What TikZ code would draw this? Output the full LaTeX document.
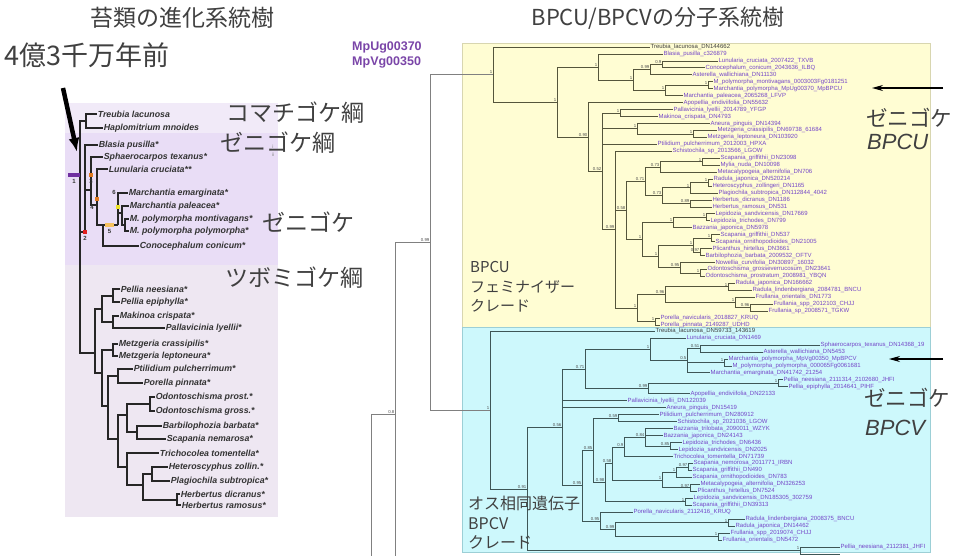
\documentclass[tikz,border=0pt]{standalone}
\usepackage{fontspec}
\setmainfont{Liberation Sans}
\newfontfamily\jpfont{Noto Sans CJK JP}
\usepackage{xcolor}
\usetikzlibrary{arrows.meta}
\definecolor{HaploBg}{HTML}{F1EAF8}
\definecolor{MarchBg}{HTML}{E9DDF6}
\definecolor{JungBg}{HTML}{EEE7F2}
\definecolor{BpcuBg}{HTML}{FFFDD3}
\definecolor{BpcuEdge}{HTML}{D8D6B0}
\definecolor{BpcvBg}{HTML}{CDF8FC}
\definecolor{BpcvEdge}{HTML}{9CCFD6}
\definecolor{TaxonViolet}{HTML}{7446C8}
\definecolor{GenePurple}{HTML}{7A45A8}
\definecolor{UBranch}{HTML}{55553C}
\definecolor{VBranch}{HTML}{3E5656}
\definecolor{OuterGray}{HTML}{808080}
\definecolor{MarkPurple}{HTML}{7030A0}
\definecolor{MarkRed}{HTML}{E02020}
\definecolor{MarkOrange}{HTML}{E07A20}
\definecolor{MarkPale}{HTML}{F7C25E}
\definecolor{MarkYellow}{HTML}{EDE22A}

\begin{document}
\begin{tikzpicture}[
  x=1pt, y=-1pt,
  lbranch/.style={line width=1.3pt, draw=black!85},
  ubranch/.style={line width=0.7pt, draw=UBranch},
  vbranch/.style={line width=0.7pt, draw=VBranch},
  obranch/.style={line width=0.8pt, draw=OuterGray},
  lleaf/.style={anchor=west, inner sep=0.6pt, font=\fontsize{8.8}{9}\selectfont\bfseries\itshape, text=black!80},
  uleaf/.style={anchor=west, inner sep=0.4pt, font=\fontsize{6}{6}\selectfont, text=TaxonViolet},
  bsval/.style={anchor=south east, inner sep=0.5pt, font=\fontsize{4.3}{4.3}\selectfont, text=black!70},
  jplabel/.style={anchor=west, inner sep=0pt, font=\jpfont\fontsize{23}{23}\selectfont, text=black!75},
  markbox/.style={minimum width=4.5pt, minimum height=4.5pt, inner sep=0pt, draw=none},
  markno/.style={inner sep=0pt, font=\fontsize{6}{6}\selectfont\bfseries, text=black!80},
  callout/.style={-{Stealth[length=11pt,width=6pt]}, line width=1.1pt}
]
\useasboundingbox (0,0) rectangle (960,556);
\clip (0,0) rectangle (960,556);
\fill[white] (0,0) rectangle (960,556);

% backgrounds
\fill[HaploBg] (65,103) rectangle (278,133);
\fill[MarchBg] (65,133) rectangle (278,265);
\fill[JungBg] (65,265) rectangle (278,517);
\filldraw[fill=BpcuBg, draw=BpcuEdge, line width=0.5pt] (462,43) rectangle (930,327);
\filldraw[fill=BpcvBg, draw=BpcvEdge, line width=0.5pt] (462,327) rectangle (930,552);

% titles
\node[inner sep=0pt, font=\jpfont\fontsize{23}{23}\selectfont, text=black!75] (ltitle) at (182,18) {苔類の進化系統樹};
\node[inner sep=0pt, font=\jpfont\fontsize{22}{22}\selectfont, text=black!75] (rtitle) at (658,18) {BPCU/BPCVの分子系統樹};
\node[jplabel, font=\jpfont\fontsize{27}{27}\selectfont] (age) at (4,55) {4億3千万年前};
\coordinate (agetail) at (63,88);
\coordinate (agehead) at (77,152);
\draw[-{Latex[length=14pt,width=11pt]}, line width=4.5pt] (agetail) -- (agehead);

% ---- liverwort tree (left)
\foreach \lx/\ly/\lname [count=\i] in {
  97/114/Treubia lacunosa, 103/128/Haplomitrium mnoides,
  98/145/Blasia pusilla*, 103/157/Sphaerocarpos texanus*, 108/169/Lunularia cruciata**,
  128/193/Marchantia emarginata*, 129/206/Marchantia paleacea*,
  129/219/M. polymorpha montivagans*, 129/231/M. polymorpha polymorpha*,
  139/246/Conocephalum conicum*,
  120/289/Pellia neesiana*, 120/302/Pellia epiphylla*, 119/316/Makinoa crispata*,
  165/328/Pallavicinia lyellii*, 118/344/Metzgeria crassipilis*, 118/356/Metzgeria leptoneura*,
  133/369/Ptilidium pulcherrimum*, 143/383/Porella pinnata*,
  155/397/Odontoschisma prost.*, 155/411/Odontoschisma gross.*,
  162/426/Barbilophozia barbata*, 166/439/Scapania nemarosa*,
  159/453/Trichocolea tomentella*, 168/467/Heteroscyphus zollin.*,
  170/481/Plagiochila subtropica*, 180/494/Herbertus dicranus*, 181/505/Herbertus ramosus*}
  \node[lleaf] (t\i) at (\lx,\ly) {\lname};

\foreach \n/\x/\y in {lroot/80/175, lstem/68/175, lH/86/121, lM/85/232, lm1/91/190,
  lm2/97/205, lm3/103/225, lm7/118/225, lm6/122/213, lm5/125/225,
  lJ/95/353, lP/102/309, lPe/113/296, lMP/113/322, lB/102/373, lMz/113/350,
  lC/108/406, lPo/118/376, lJu/118/439, lS1/127/415, lOd/150/404, lBS/137/432,
  lS2/127/467, lS3/143/485, lHP/152/474, lHe/177/500}
  \coordinate (\n) at (\x,\y);

\foreach \p/\c in {lroot/lH, lroot/lM, lroot/lJ, lH/t1, lH/t2, lM/t3, lM/lm1,
  lm1/t4, lm1/lm2, lm2/t5, lm2/lm3, lm3/lm7, lm3/t10, lm7/t6, lm7/lm6,
  lm6/t7, lm6/lm5, lm5/t8, lm5/t9, lJ/lP, lJ/lB, lP/lPe, lP/lMP,
  lPe/t11, lPe/t12, lMP/t13, lMP/t14, lB/lMz, lB/lC, lMz/t15, lMz/t16,
  lC/lPo, lC/lJu, lPo/t17, lPo/t18, lJu/lS1, lJu/lS2, lS1/lOd, lS1/lBS,
  lOd/t19, lOd/t20, lBS/t21, lBS/t22, lS2/t23, lS2/lS3, lS3/lHP, lS3/lHe,
  lHP/t24, lHP/t25, lHe/t26, lHe/t27}
  \draw[lbranch] (\p) |- (\c);

% event markers
\node[markbox, fill=MarkPurple, minimum width=12pt, minimum height=3.5pt] (mk1) at (74,175) {};
\node[markbox, fill=MarkRed] (mk2) at (lM) {};
\node[markbox, fill=MarkOrange] (mk3) at (91,175) {};
\node[markbox, fill=MarkOrange] (mk4) at (97,199) {};
\node[markbox, fill=MarkPale, minimum width=9pt, minimum height=4pt] (mk5) at (109.5,225) {};
\node[markbox, fill=MarkYellow] (mk6) at (118,207) {};
\node[markno, below=2pt] at (mk1.south) {1};
\node[markno, below=2pt] at (mk2.south) {2};
\node[markno, below=2pt] at (mk3.south) {3};
\node[markno] at (92,207) {4};
\node[markno, below=2pt] at (mk5.south) {5};
\node[markno] at (114,192) {6};
\node[markno, text=black!45, font=\fontsize{5}{5}\selectfont] at (273,147) {i};
\node[markno, text=black!45, font=\fontsize{5}{5}\selectfont] at (273,155) {ii};

% class labels
\node[jplabel] (haplo) at (226,113) {コマチゴケ綱};
\node[jplabel] (march) at (220,143) {ゼニゴケ綱};
\node[jplabel] (mpoly) at (262,222) {ゼニゴケ};
\node[jplabel] (jung) at (225,278) {ツボミゴケ綱};

% ---- BPCU / BPCV tree (right)
\node[anchor=west, inner sep=0pt, font=\fontsize{12.5}{13}\selectfont\bfseries, text=GenePurple] (mpu) at (352,47) {MpUg00370};
\node[anchor=west, inner sep=0pt, font=\fontsize{12.5}{13}\selectfont\bfseries, text=GenePurple] (mpv) at (352,62) {MpVg00350};

\node[uleaf, text=black!75] (u1) at (650,47) {Treubia\_lacunosa\_DN144662};
\foreach \lx/\lname [count=\i from 2] in {
  663/Blasia\_pusilla\_c326879, 718/Lunularia\_cruciata\_2007422\_TXVB,
  705/Conocephalum\_conicum\_2043636\_ILBQ, 692/Asterella\_wallichiana\_DN11130,
  713/M\_polymorpha\_montivagans\_0003003Fg0181251, 713/Marchantia\_polymorpha\_MpUg00370\_MpBPCU,
  683/Marchantia\_paleacea\_2065268\_LFVP, 683/Apopellia\_endiviifolia\_DN55632,
  673/Pallavicinia\_lyellii\_2014789\_YFGP, 658/Makinoa\_crispata\_DN4793,
  710/Aneura\_pinguis\_DN14394, 717/Metzgeria\_crassipilis\_DN69738\_61684,
  707/Metzgeria\_leptoneura\_DN103920, 657/Ptilidium\_pulcherrimum\_2012003\_HPXA,
  672/Schistochila\_sp\_2013566\_LGOW, 720/Scapania\_griffithii\_DN23098,
  720/Mylia\_nuda\_DN10098, 717/Metacalypogeia\_alternifolia\_DN706,
  713/Radula\_japonica\_DN520214, 712/Heteroscyphus\_zollingeri\_DN1165,
  718/Plagiochila\_subtropica\_DN112844\_4042, 712/Herbertus\_dicranus\_DN1186,
  712/Herbertus\_ramosus\_DN531, 715/Lepidozia\_sandvicensis\_DN17669,
  710/Lepidozia\_trichodes\_DN799, 692/Bazzania\_japonica\_DN5978,
  720/Scapania\_griffithii\_DN537, 715/Scapania\_ornithopodioides\_DN21005,
  712/Plicanthus\_hirtellus\_DN3661, 705/Barbilophozia\_barbata\_2009532\_OFTV,
  715/Nowellia\_curvifolia\_DN30897\_16032, 707/Odontoschisma\_grosseverrucosum\_DN23641,
  705/Odontoschisma\_prostratum\_2008981\_YBQN, 735/Radula\_japonica\_DN166662,
  752/Radula\_lindenbergiana\_2084781\_BNCU, 755/Frullania\_orientalis\_DN1773,
  773/Frullania\_spp\_2012103\_CHJJ, 768/Frullania\_sp\_2008571\_TGKW,
  660/Porella\_navicularis\_2018827\_KRUQ, 660/Porella\_pinnata\_2149287\_UDHD}
  \node[uleaf] (u\i) at (\lx,{47+(\i-1)*6.95}) {\lname};

\node[uleaf, text=black!75] (v1) at (655,331) {Treubia\_lacunosa\_DN59733\_143619};
\foreach \lx/\lname [count=\i from 2] in {
  686/Lunularia\_cruciata\_DN1469, 820/Sphaerocarpos\_texanus\_DN14368\_19,
  763/Asterella\_wallichiana\_DN5453, 728/Marchantia\_polymorpha\_MpVg00350\_MpBPCV,
  732/M\_polymorpha\_polymorpha\_000065Fg0061681, 710/Marchantia\_emarginata\_DN41742\_21254,
  783/Pellia\_neesiana\_2111314\_2102680\_JHFI, 788/Pellia\_epiphylla\_2014641\_PIHF,
  690/Apopellia\_endiviifolia\_DN22133, 627/Pallavicinia\_lyellii\_DN122039,
  666/Aneura\_pinguis\_DN15419, 659/Ptilidium\_pulcherrimum\_DN280912,
  677/Schistochila\_sp\_2021036\_LGOW, 673/Bazzania\_trilobata\_2090011\_WZYK,
  663/Bazzania\_japonica\_DN24143, 682/Lepidozia\_trichodes\_DN6436,
  678/Lepidozia\_sandvicensis\_DN2025, 673/Trichocolea\_tomentella\_DN71739,
  693/Scapania\_nemorosa\_2011771\_IRBN, 692/Scapania\_griffithii\_DN490,
  692/Scapania\_ornithopodioides\_DN783, 700/Metacalypogeia\_alternifolia\_DN326253,
  697/Plicanthus\_hirtellus\_DN7524, 693/Lepidozia\_sandvicensis\_DN185305\_302759,
  692/Scapania\_griffithii\_DN39313, 633/Porella\_navicularis\_2112416\_KRUQ,
  745/Radula\_lindenbergiana\_2008375\_BNCU, 735/Radula\_japonica\_DN14462,
  730/Frullania\_spp\_2019074\_CHJJ, 722/Frullania\_orientalis\_DN5472,
  840/Pellia\_neesiana\_2112381\_JHFI}
  \node[uleaf] (v\i) at (\lx,{331+(\i-1)*6.97}) {\lname};

\foreach \n/\x/\y in {U/493/74.5, R1/557/102, Mar/598/67, Mar2/633/80, Mar3/650/69.6,
  LC/662/64.4, MarB/665/90.5, MP/708/85.25, R2/588/137, X/602/171.4, PM/620/113.05,
  AM/637/128.7, MZ/693/133.9, J2/615/229.7, JG/626/210.35, G12/645/181.25,
  G1/660/166.9, G1a/702/161.7, G2/662/195.6, G2a/690/187.8, G2b/708/182.55,
  G2d/690/203.4, G34/642/239.45, G3/673/222.5, G3a/706/217.3, G4/658/256.4,
  G4a/693/245.1, G4b/711/238.15, G4c/700/252.05, G4d/680/267.7, G4e/700/272.9,
  G5/637/308.1, G5a/665/294.6, G5b/728/286.8, G5c/735/302.4, G5d/750/307.65,
  PP/655/321.55}
  \coordinate (\n) at (\x,\y);

\foreach \n/\x/\y in {V/490/410, V2/527/488.9, V3/562/427.25, V4/585/368.9,
  VM/650/349.3, VM2/687/360.6, VM3/700/348.4, VMP/724/362.4, PelN/648/388.5,
  PelP/778/383.3, V5/582/485.6, V6/593/450.35, V8/618/418.1, V9/605/482.6,
  V10/612/463.45, V12/624/446.9, V1415/645/437.3, V15/670/446.0, V13/662/480.0,
  V16/676/472.15, V18/688/466.9, V17/690/487.8, V11/685/501.8, V7/600/520.9,
  V20/615/529.65, V21/728/522.7, V22/718/536.6, VB/800/550.55, vcut/840/554}
  \coordinate (\n) at (\x,\y);

\foreach \n/\x/\y in {O1/430/242.25, O2/395/414, Oroot/371/600, O2low/395/600}
  \coordinate (\n) at (\x,\y);

\foreach \p/\c in {U/u1, U/R1, R1/Mar, R1/R2, Mar/u2, Mar/Mar2, Mar2/Mar3, Mar2/MarB,
  Mar3/LC, Mar3/u5, LC/u3, LC/u4, MarB/MP, MarB/u8, MP/u6, MP/u7, R2/u9, R2/X,
  X/PM, X/AM, X/u15, X/J2, PM/u10, PM/u11, AM/u12, AM/MZ, MZ/u13, MZ/u14,
  J2/u16, J2/JG, J2/G5, JG/G12, JG/G34, G12/G1, G12/G2, G1/G1a, G1/u19,
  G1a/u17, G1a/u18, G2/G2a, G2/G2d, G2a/G2b, G2a/u22, G2b/u20, G2b/u21,
  G2d/u23, G2d/u24, G34/G3, G34/G4, G3/G3a, G3/u27, G3a/u25, G3a/u26,
  G4/G4a, G4/G4d, G4a/G4b, G4a/G4c, G4b/u28, G4b/u29, G4c/u30, G4c/u31,
  G4d/u32, G4d/G4e, G4e/u33, G4e/u34, G5/G5a, G5/PP, G5a/G5b, G5a/G5c,
  G5b/u35, G5b/u36, G5c/u37, G5c/G5d, G5d/u38, G5d/u39, PP/u40, PP/u41}
  \draw[ubranch] (\p) |- (\c);

\foreach \p/\c in {V/v1, V/V2, V2/V3, V2/VB, V3/V4, V3/v11, V3/v12, V3/V5,
  V4/VM, V4/PelN, VM/v2, VM/VM2, VM2/VM3, VM2/VMP, VM2/v7, VM3/v3, VM3/v4,
  VMP/v5, VMP/v6, PelN/PelP, PelN/v10, PelP/v8, PelP/v9, V5/V6, V5/V7,
  V6/V8, V6/V9, V8/v13, V8/v14, V9/V10, V9/V11, V10/V12, V10/V13,
  V12/V1415, V12/v19, V1415/v15, V1415/v16, V1415/V15, V15/v17, V15/v18,
  V13/V16, V13/V17, V16/V18, V16/v22, V18/v20, V18/v21, V17/v23, V17/v24,
  V11/v25, V11/v26, V7/v27, V7/V20, V20/V21, V20/V22, V21/v28, V21/v29,
  V22/v30, V22/v31, VB/v32, VB/vcut}
  \draw[vbranch] (\p) |- (\c);

\draw[obranch] (O1) |- (U);
\draw[obranch] (O1) |- (V);
\draw[obranch] (O2) |- (O1);
\draw[obranch] (O2) -- (O2low);
\draw[obranch] (Oroot) |- (O2);

% support values
\foreach \n/\v in {U/1, R1/1, Mar/1, Mar2/1, Mar3/0.99, LC/0.9, MarB/1, MP/1,
  R2/0.90, X/0.52, PM/1, AM/1, MZ/1, J2/0.99, JG/0.58, G12/0.71, G1/0.73,
  G1a/1, G2/0.73, G2a/1, G2b/1, G2d/0.89, G34/1, G3/1, G3a/1, G4/1, G4a/1,
  G4b/1, G4c/0.97, G4d/0.95, G4e/1, G5/1, G5a/0.96, G5b/1, G5c/1, G5d/0.96, PP/1,
  V/1, V2/0.91, V3/0.56, V4/0.71, VM/1, VM2/0.5, VM3/0.51, VMP/1, PelN/0.99,
  PelP/1, V5/0.95, V6/0.85, V8/0.59, V9/0.98, V10/0.58, V12/0.9, V1415/0.84,
  V15/0.85, V13/1, V16/1, V18/0.97, V17/0.97, V11/1, V7/0.95, V20/0.99,
  V21/1, V22/1, VB/1, O1/0.99, O2/0.8}
  \node[bsval] at (\n) {\v};

% clade labels
\node[anchor=west, align=left, inner sep=0pt, font=\jpfont\fontsize{15}{19.5}\selectfont, text=black!75] (femclade) at (470,287) {BPCU\\フェミナイザー\\クレード};
\node[anchor=west, align=left, inner sep=0pt, font=\jpfont\fontsize{16}{19.5}\selectfont, text=black!75] (maleclade) at (468,523) {オス相同遺伝子\\BPCV\\クレード};

\node[jplabel, font=\jpfont\fontsize{21.5}{21.5}\selectfont] (zeniU) at (866,118) {ゼニゴケ};
\node[anchor=west, inner sep=0pt, font=\fontsize{22}{22}\selectfont\itshape, text=black!75] (bpcu) at (867,142) {BPCU};
\node[jplabel, font=\jpfont\fontsize{21.5}{21.5}\selectfont] (zeniV) at (864,398) {ゼニゴケ};
\node[anchor=west, inner sep=0pt, font=\fontsize{22}{22}\selectfont\itshape, text=black!75] (bpcv) at (865,428) {BPCV};

\coordinate (arrUtail) at (943,88);
\coordinate (arrUhead) at (872,88);
\coordinate (arrVtail) at (943,359);
\coordinate (arrVhead) at (889,359);
\draw[callout] (arrUtail) -- (arrUhead);
\draw[callout] (arrVtail) -- (arrVhead);
\end{tikzpicture}
\end{document}
